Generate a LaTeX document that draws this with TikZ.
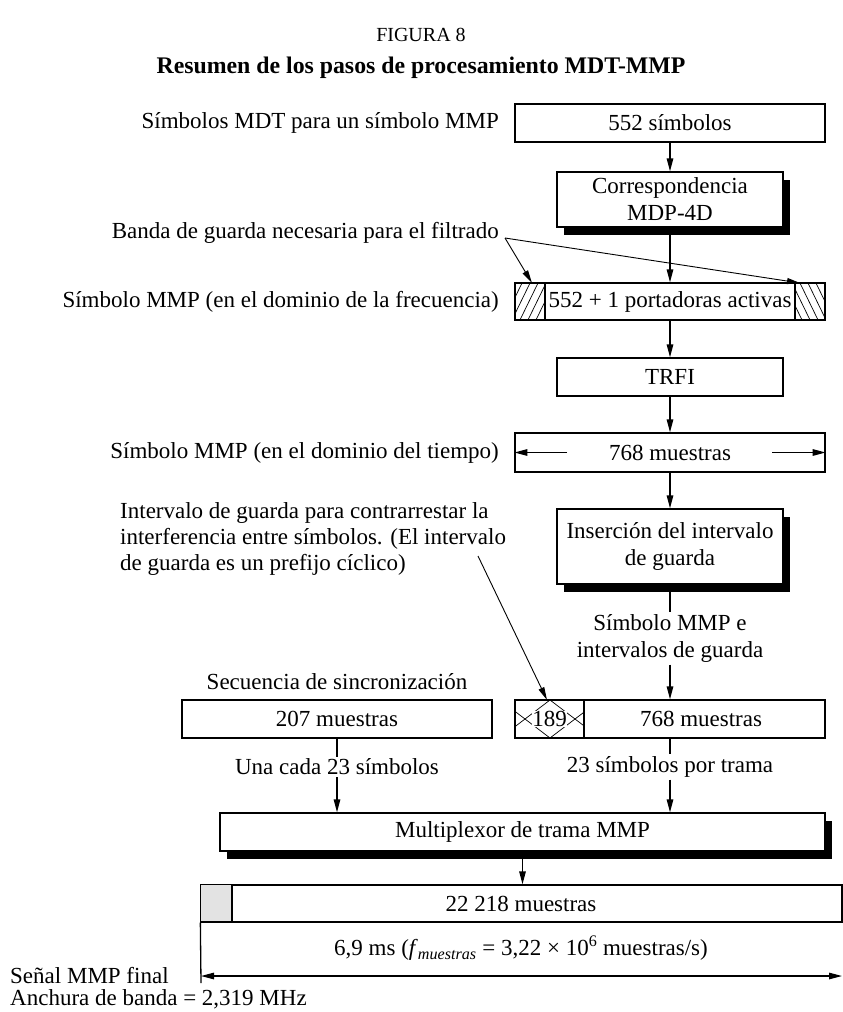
\documentclass[tikz,border=0pt]{standalone}
\usepackage{fontspec}
\setmainfont{Liberation Serif}
\usetikzlibrary{arrows.meta,shadows}

\begin{document}
\begin{tikzpicture}[x=1pt,y=-1pt,
  font=\fontsize{23}{27}\selectfont,
  box/.style={draw, line width=1.3pt, fill=white, inner sep=0pt, align=center},
  shadowed/.style={box, drop shadow={shadow xshift=7pt, shadow yshift=-8pt, opacity=1, fill=black}},
  flow/.style={line width=1.3pt, -{Triangle[length=13pt,width=6.5pt]}},
  twoway/.style={line width=1.3pt, {Triangle[length=13pt,width=6.5pt]}-{Triangle[length=13pt,width=6.5pt]}},
  plain/.style={line width=1.3pt},
  pointer/.style={line width=0.9pt, -{Triangle[length=13pt,width=6pt]}},
  hatch/.style={line width=0.7pt},
  lbl/.style={inner sep=2pt, align=center},
  side/.style={inner sep=0pt, anchor=east},
]
\useasboundingbox (0,0) rectangle (843,1012);

% headings
\node[lbl, font=\fontsize{20}{24}\selectfont] (fig) at (421,35) {FIGURA 8};
\node[lbl, font=\fontsize{23.8}{28}\selectfont\bfseries] (title) at (421,68) {Resumen de los pasos de procesamiento MDT-MMP};

% processing chain
\node[box, minimum width=310pt, minimum height=38pt] (b1) at (670,123) {552 símbolos};
\node[shadowed, minimum width=226pt, minimum height=55pt] (b2) at (670,199.5) {Correspondencia\\MDP-4D};
\node[box, minimum width=310pt, minimum height=37pt] (b3) at (670,301.5) {552 + 1 portadoras activas};
\node[box, minimum width=226pt, minimum height=38pt] (b4) at (670,377) {TRFI};
\node[box, minimum width=310pt, minimum height=39pt] (b5) at (670,452.5) {768 muestras};
\node[shadowed, minimum width=226pt, minimum height=75pt] (b6) at (670,546.5) {Inserción del intervalo\\de guarda};
\node[lbl] (t6) at (670,638.5) {Símbolo MMP e\\intervalos de guarda};

% guard bands of the frequency-domain symbol
\begin{scope}
  \clip (515,283) rectangle (545,320);
  \foreach \i in {0,...,7} \draw[hatch] (495+\i*8,322) -- ++(20,-41);
\end{scope}
\begin{scope}
  \clip (795,283) rectangle (825,320);
  \foreach \i in {0,...,7} \draw[hatch] (775+\i*8,281) -- ++(20,41);
\end{scope}
\draw[plain] (545,283) -- (545,320);
\draw[plain] (795,283) -- (795,320);
\draw[plain] (b3.north west) rectangle (b3.south east);

% arrows inside the time-domain symbol
\coordinate (b5l) at (567,452.5);
\coordinate (b5r) at (772,452.5);
\draw[flow] (b5l) -- (b5.west);
\draw[flow] (b5r) -- (b5.east);

% synchronisation sequence and symbol with guard interval
\node[lbl] (s7) at (337,682) {Secuencia de sincronización};
\node[box, minimum width=310pt, minimum height=38pt] (b7) at (337,719) {207 muestras};
\node[box, minimum width=310pt, minimum height=38pt] (b8) at (670,719) {};
\begin{scope}
  \clip (515,700) rectangle (584,738);
  \foreach \a in {450,500,550} {
    \draw[hatch] (\a,738) -- ++(50,-38);
    \draw[hatch] (\a,700) -- ++(50,38);
  }
\end{scope}
\draw[plain] (584,700) -- (584,738);
\draw[plain] (b8.north west) rectangle (b8.south east);
\node[fill=white, inner sep=0.5pt] (g189) at (549.5,719) {189};
\node[inner sep=0pt] (t8) at (701,719) {768 muestras};

\node[lbl] (u7) at (337,767) {Una cada 23 símbolos};
\node[lbl] (u8) at (670,767) {23 símbolos por trama};

\node[shadowed, minimum width=605pt, minimum height=38pt] (mux) at (522.5,832) {Multiplexor de trama MMP};

% final frame
\node[box, minimum width=641pt, minimum height=37pt] (bar) at (521.5,903.5) {};
\filldraw[fill=black!11, line width=1.3pt] (bar.north west) rectangle (232,922);
\node[inner sep=0pt] (t9) at (521,903.5) {22 218 muestras};

\coordinate (d0) at (201,983);
\coordinate (dl) at (201,976);
\coordinate (dr) at (842,976);
\draw[plain] (bar.south west) -- (d0);
\draw[twoway] (dl) -- (dr);
\node[lbl] (dim) at (521,948) {6,9 ms (\textit{f}\textsubscript{\textit{muestras}} = 3,22 × 10\textsuperscript{6} muestras/s)};
\node[inner sep=0pt, anchor=west] (fin1) at (10,976) {Señal MMP final};
\node[inner sep=0pt, anchor=west] (fin2) at (10,999) {Anchura de banda = 2,319 MHz};

% side labels
\node[side] (l1) at (499,123) {Símbolos MDT para un símbolo MMP};
\node[side] (l2) at (499,233) {Banda de guarda necesaria para el filtrado};
\node[side] (l3) at (499,301.5) {Símbolo MMP (en el dominio de la frecuencia)};
\node[side] (l4) at (499,452.5) {Símbolo MMP (en el dominio del tiempo)};
\node[inner sep=0pt, anchor=west, align=left, font=\fontsize{23}{26}\selectfont] (l5) at (120,539)
  {Intervalo de guarda para contrarrestar la\\interferencia entre símbolos. (El intervalo\\de guarda es un prefijo cíclico)};

% connectors of the chain
\draw[flow] (b1.south) -- (b2.north);
\draw[flow] (b2.south) -- (b3.north);
\draw[flow] (b3.south) -- (b4.north);
\draw[flow] (b4.south) -- (b5.north);
\draw[flow] (b5.south) -- (b6.north);
\draw[plain] (b6.south) -- (t6.north);
\draw[flow] (t6.south) -- (t6.south |- b8.north);
\draw[plain] (b7.south) -- (u7.north);
\draw[flow] (u7.south) -- (u7.south |- mux.north);
\draw[plain] (u8.north |- b8.south) -- (u8.north);
\draw[flow] (u8.south) -- (u8.south |- mux.north);
\draw[flow] (mux.south) -- (mux.south |- bar.north);

% pointers from the notes
\coordinate (gb) at (505,238);
\coordinate (gbl) at (532,283);
\coordinate (gbr) at (800,283);
\draw[pointer] (gb) -- (gbl);
\draw[pointer] (gb) -- (gbr);
\coordinate (gi) at (478,556);
\coordinate (git) at (547,700);
\draw[pointer] (gi) -- (git);
\end{tikzpicture}
\end{document}
